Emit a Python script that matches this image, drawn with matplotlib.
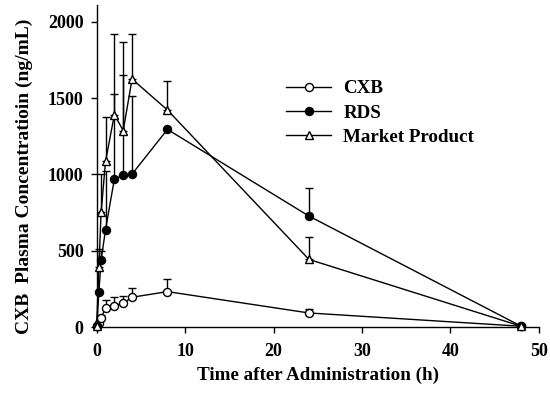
import numpy as np
import matplotlib
matplotlib.use("Agg")
import matplotlib.pyplot as plt

time_h = [0, 0.25, 0.5, 1, 2, 3, 4, 8, 24, 48]
cxb = [5, 25, 60, 125, 140, 155, 195, 232, 92, 5]
cxb_err = [0, 10, 20, 50, 55, 45, 60, 85, 25, 0]
rds = [5, 230, 440, 638, 970, 995, 1002, 1295, 727, 5]
rds_err = [0, 0, 60, 385, 555, 655, 515, 0, 183, 0]
market = [5, 392, 752, 1085, 1392, 1287, 1625, 1422, 443, 5]
market_err = [0, 118, 250, 290, 530, 580, 298, 190, 148, 0]
labels = ["CXB", "RDS", "Market Product"]
x_ticks = [0, 10, 20, 30, 40, 50]
y_ticks = [0, 500, 1000, 1500, 2000]

plt.rcParams['font.family'] = ['Liberation Serif', 'DejaVu Serif']
plt.rcParams['font.weight'] = 'bold'

fig = plt.figure(figsize=(5.5, 3.97), dpi=100)
ax = fig.add_axes([0.1758, 0.1763, 0.804, 0.811])

series = [
    (cxb, cxb_err, 'o', 'white', labels[0]),
    (rds, rds_err, 'o', 'black', labels[1]),
    (market, market_err, '^', 'white', labels[2]),
]
for vals, err, mk, fc, lab in series:
    ax.errorbar(time_h, vals, yerr=[np.zeros(len(err)), err], fmt='none',
                ecolor='black', elinewidth=1.0, capsize=3.0, capthick=1.0,
                zorder=2, clip_on=False)
    ax.plot(time_h, vals, marker=mk, color='black', markerfacecolor=fc,
            markeredgecolor='black', markersize=5.8 if mk == 'o' else 6.2,
            markeredgewidth=1.0, linewidth=1.0, label=lab, zorder=3,
            clip_on=False)

ax.set_xlim(0, 50)
ax.set_ylim(0, 2110)
ax.set_xticks(x_ticks)
ax.set_yticks(y_ticks)
ax.tick_params(direction='out', length=4.5, width=1.0, labelsize=13, pad=5)
ax.tick_params(axis='x', pad=7)
for lbl in ax.get_xticklabels() + ax.get_yticklabels():
    lbl.set_fontweight('bold')
ax.spines['top'].set_visible(False)
ax.spines['right'].set_visible(False)
for s in ['left', 'bottom']:
    ax.spines[s].set_linewidth(1.0)

ax.set_xlabel("Time after Administration (h)", fontsize=13.7, fontweight='bold')
ax.set_ylabel("CXB  Plasma Concentratioin (ng/mL)", fontsize=14, fontweight='bold')
ax.xaxis.set_label_coords(0.50, -0.123)
ax.yaxis.set_label_coords(-0.143, 0.469)

leg = ax.legend(loc='upper left', bbox_to_anchor=(0.39, 0.82), frameon=False,
                prop={'size': 13.7, 'weight': 'bold'}, handlelength=2.37,
                labelspacing=0.36, handletextpad=0.63)

fig.savefig("out.png", dpi=100)
